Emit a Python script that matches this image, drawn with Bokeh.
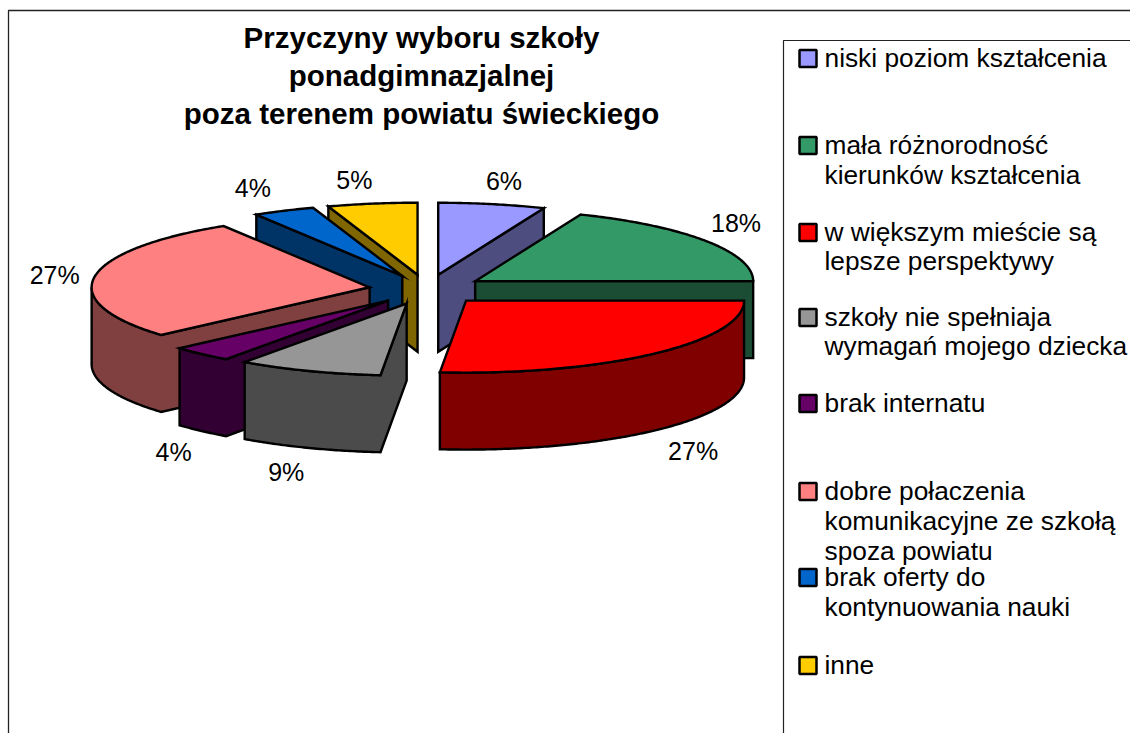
import math
from bokeh.plotting import figure
from bokeh.models import Range1d
from bokeh.core.properties import value
from bokeh.embed import file_html
from bokeh.resources import INLINE

# ---- data ----
categories = ["niski poziom kształcenia", "mała różnorodność kierunków kształcenia",
              "w większym mieście są lepsze perspektywy", "szkoły nie spełniaja wymagań mojego dziecka",
              "brak internatu", "dobre połaczenia komunikacyjne ze szkołą spoza powiatu",
              "brak oferty do kontynuowania nauki", "inne"]
values = [6.2, 18.8, 26.5, 8.4, 3.6, 27.7, 3.6, 5.2]
pct_labels = ["6%", "18%", "27%", "9%", "4%", "27%", "4%", "5%"]
top_colors = ["#9999FF", "#339966", "#FF0000", "#969696", "#660066", "#FF8080", "#0066CC", "#FFCC00"]
wall_colors = ["#4D4D80", "#1A4D33", "#800000", "#4B4B4B", "#330033", "#804040", "#003366", "#806600"]
title_lines = ["Przyczyny wyboru szkoły", "ponadgimnazjalnej", "poza terenem powiatu świeckiego"]
legend_lines = [["niski poziom kształcenia"], ["mała różnorodność", "kierunków kształcenia"],
                ["w większym mieście są", "lepsze perspektywy"], ["szkoły nie spełniaja", "wymagań mojego dziecka"],
                ["brak internatu"], ["dobre połaczenia", "komunikacyjne ze szkołą", "spoza powiatu"],
                ["brak oferty do", "kontynuowania nauki"], ["inne"]]

# ---- layout (page pixels) ----
CX, CY, RX, RY, DEPTH, EX, EY = 426.5, 289, 278, 72, 77, 58, 15
draw_order = [7, 6, 0, 1, 5, 2, 4, 3]
label_offsets = [(12, -23), (30, -18), (40, 97), (-23, 101), (-28, 98), (-40, -2), (-31, -23), (-18, -24)]
legend_first_y = [58, 145, 232, 317, 403, 491, 577, 665]
legend_text_dy = -1
legend_line_h = [0, 30, 29, 29, 0, 30, 30, 0]

p = figure(width=1130, height=733, x_range=Range1d(0, 1130), y_range=Range1d(733, 0),
           toolbar_location=None, output_backend="svg", min_border=0,
           background_fill_color="white", border_fill_color="white", outline_line_color=None)
p.xaxis.visible = False
p.yaxis.visible = False
p.grid.visible = False

# frame
p.line([8, 8, 1130], [733, 10, 10], line_color="#222222", line_width=1.3)
p.line([783, 783, 1130], [733, 40, 40], line_color="#222222", line_width=1.2)

# slices
total = sum(values)
cum = [0.0]
for v in values:
    cum.append(cum[-1] + v)
ang = [c / total * 2 * math.pi for c in cum]


def rim(ax, t):
    return (ax[0] + RX * math.sin(t), ax[1] - RY * math.cos(t))


apexes, mids = [], []
for i in range(len(values)):
    m = (ang[i] + ang[i + 1]) / 2
    mids.append(m)
    apexes.append((CX + EX * math.sin(m), CY - EY * math.cos(m)))

LW = 2.4
for i in draw_order:
    a0, a1 = ang[i], ang[i + 1]
    n = max(2, int((a1 - a0) / 0.01))
    arc = [rim(apexes[i], a0 + (a1 - a0) * k / n) for k in range(n + 1)]
    poly = [apexes[i]] + arc + [apexes[i]]
    runs, cur = [], []
    for P, Q in zip(poly[:-1], poly[1:]):
        if Q[0] - P[0] < 0:
            if not cur:
                cur = [P]
            cur.append(Q)
        else:
            if cur:
                runs.append(cur)
            cur = []
    if cur:
        runs.append(cur)
    for run in runs:
        xs = [q[0] for q in run] + [q[0] for q in reversed(run)]
        ys = [q[1] for q in run] + [q[1] + DEPTH for q in reversed(run)]
        p.patch(xs, ys, fill_color=wall_colors[i], line_color="black", line_width=LW, line_join="miter")
    p.patch([q[0] for q in poly], [q[1] for q in poly], fill_color=top_colors[i],
            line_color="black", line_width=LW, line_join="miter")

FONT = value("Liberation Sans")
for i, lab in enumerate(pct_labels):
    rp = rim(apexes[i], mids[i])
    dx, dy = label_offsets[i]
    p.text([rp[0] + dx], [rp[1] + dy], text=[lab], text_font=FONT, text_font_size="25px",
           text_color="black", text_align="center", text_baseline="middle")

for y, line in zip([37, 75, 113], title_lines):
    p.text([421], [y], text=[line], text_font=FONT, text_font_size="29.5px", text_font_style="bold",
           text_color="black", text_align="center", text_baseline="middle")

for i, lines in enumerate(legend_lines):
    y0 = legend_first_y[i]
    p.rect([807.5], [y0], width=17, height=17, fill_color=top_colors[i], line_color="black", line_width=2.5)
    for k, line in enumerate(lines):
        p.text([824], [y0 + legend_text_dy + k * legend_line_h[i]], text=[line], text_font=FONT,
               text_font_size="26.3px", text_color="black", text_align="left", text_baseline="middle")

open("out.html", "w").write(file_html(p, INLINE))
